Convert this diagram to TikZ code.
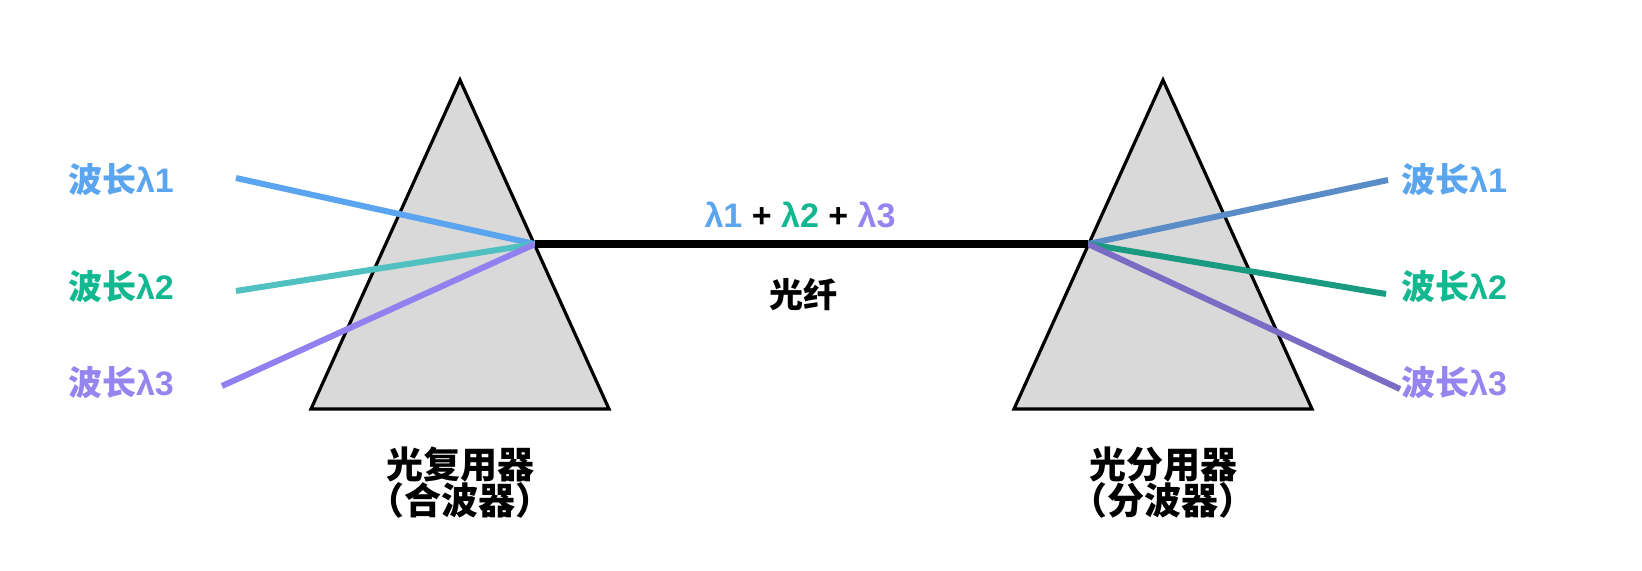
\documentclass[tikz,border=0pt]{standalone}
\usepackage{fontspec}
\setmainfont{Liberation Sans}
\newfontfamily\cjk{Noto Sans CJK SC}
\usetikzlibrary{positioning}
\definecolor{waveA}{HTML}{5AA5EE}
\definecolor{waveB}{HTML}{12B890}
\definecolor{waveC}{HTML}{9585EE}
\definecolor{inA}{HTML}{5BA4F0}
\definecolor{inB}{HTML}{50C0C0}
\definecolor{inC}{HTML}{9080F0}
\definecolor{outA}{HTML}{5A8CC8}
\definecolor{outB}{HTML}{1A9A80}
\definecolor{outC}{HTML}{7A6CC4}
\tikzset{
      prism/.style={
		fill=black!15,
		draw=black,
		line width=1.6,
		line join=miter,
	  },
  		wave label/.style={
    	font=\bfseries\fontsize{17}{19}\selectfont,
      },
  		box label/.style={
    	font=\bfseries\fontsize{18.5}{21}\selectfont,
      },
      ray/.style={line width=3},
  	}

\begin{document}
\begin{tikzpicture}[x=0.5pt, y=-0.5pt]
    \useasboundingbox (0,0) rectangle (1642,571);
    % prisms
    \draw [prism] (460,80) coordinate (mtop) -- (609,409) coordinate (mright) -- (311,409) coordinate (mleft) -- cycle;
    \draw [prism] (1163,80) coordinate (dtop) -- (1312,409) coordinate (dright) -- (1014,409) coordinate (dleft) -- cycle;
    \coordinate (mux) at (535,244);
    \coordinate (demux) at (1088,244);
    % wavelength labels
    \node [wave label, text=waveA] (l1) at (121,180) {{\cjk\bfseries 波长}λ1};
    \node [wave label, text=waveB] (l2) at (121,287) {{\cjk\bfseries 波长}λ2};
    \node [wave label, text=waveC] (l3) at (121,383) {{\cjk\bfseries 波长}λ3};
    \node [wave label, text=waveA] (r1) at (1454,180) {{\cjk\bfseries 波长}λ1};
    \node [wave label, text=waveB] (r2) at (1454,287) {{\cjk\bfseries 波长}λ2};
    \node [wave label, text=waveC] (r3) at (1454,383) {{\cjk\bfseries 波长}λ3};
    \coordinate (a1) at (236,178);
    \coordinate (a2) at (236,291);
    \coordinate (a3) at (222,386);
    \coordinate (b1) at (1388,180);
    \coordinate (b2) at (1386,294);
    \coordinate (b3) at (1400,389);
    % rays
    \draw [ray, inA] (a1) -- (mux);
    \draw [ray, inB] (a2) -- (mux);
    \draw [ray, inC] (a3) -- (mux);
    \draw [ray, outA] (demux) -- (b1);
    \draw [ray, outB] (demux) -- (b2);
    \draw [ray, outC] (demux) -- (b3);
    % fibre
    \draw [line width=4, black] (mux) -- (demux);
    \node [wave label] (sum) at (800,215) {\textcolor{waveA}{λ1} + \textcolor{waveB}{λ2} + \textcolor{waveC}{λ3}};
    \node [wave label] (fibre) at (803,295) {\cjk\bfseries 光纤};
    % captions
    \node [box label] (mcap) at (460,465) {\cjk\bfseries 光复用器};
    \node [box label, below=-7pt of mcap] (mcap2) {\cjk\bfseries （合波器）};
    \node [box label] (dcap) at (1163,465) {\cjk\bfseries 光分用器};
    \node [box label, below=-7pt of dcap] (dcap2) {\cjk\bfseries （分波器）};
  \end{tikzpicture}
\end{document}
